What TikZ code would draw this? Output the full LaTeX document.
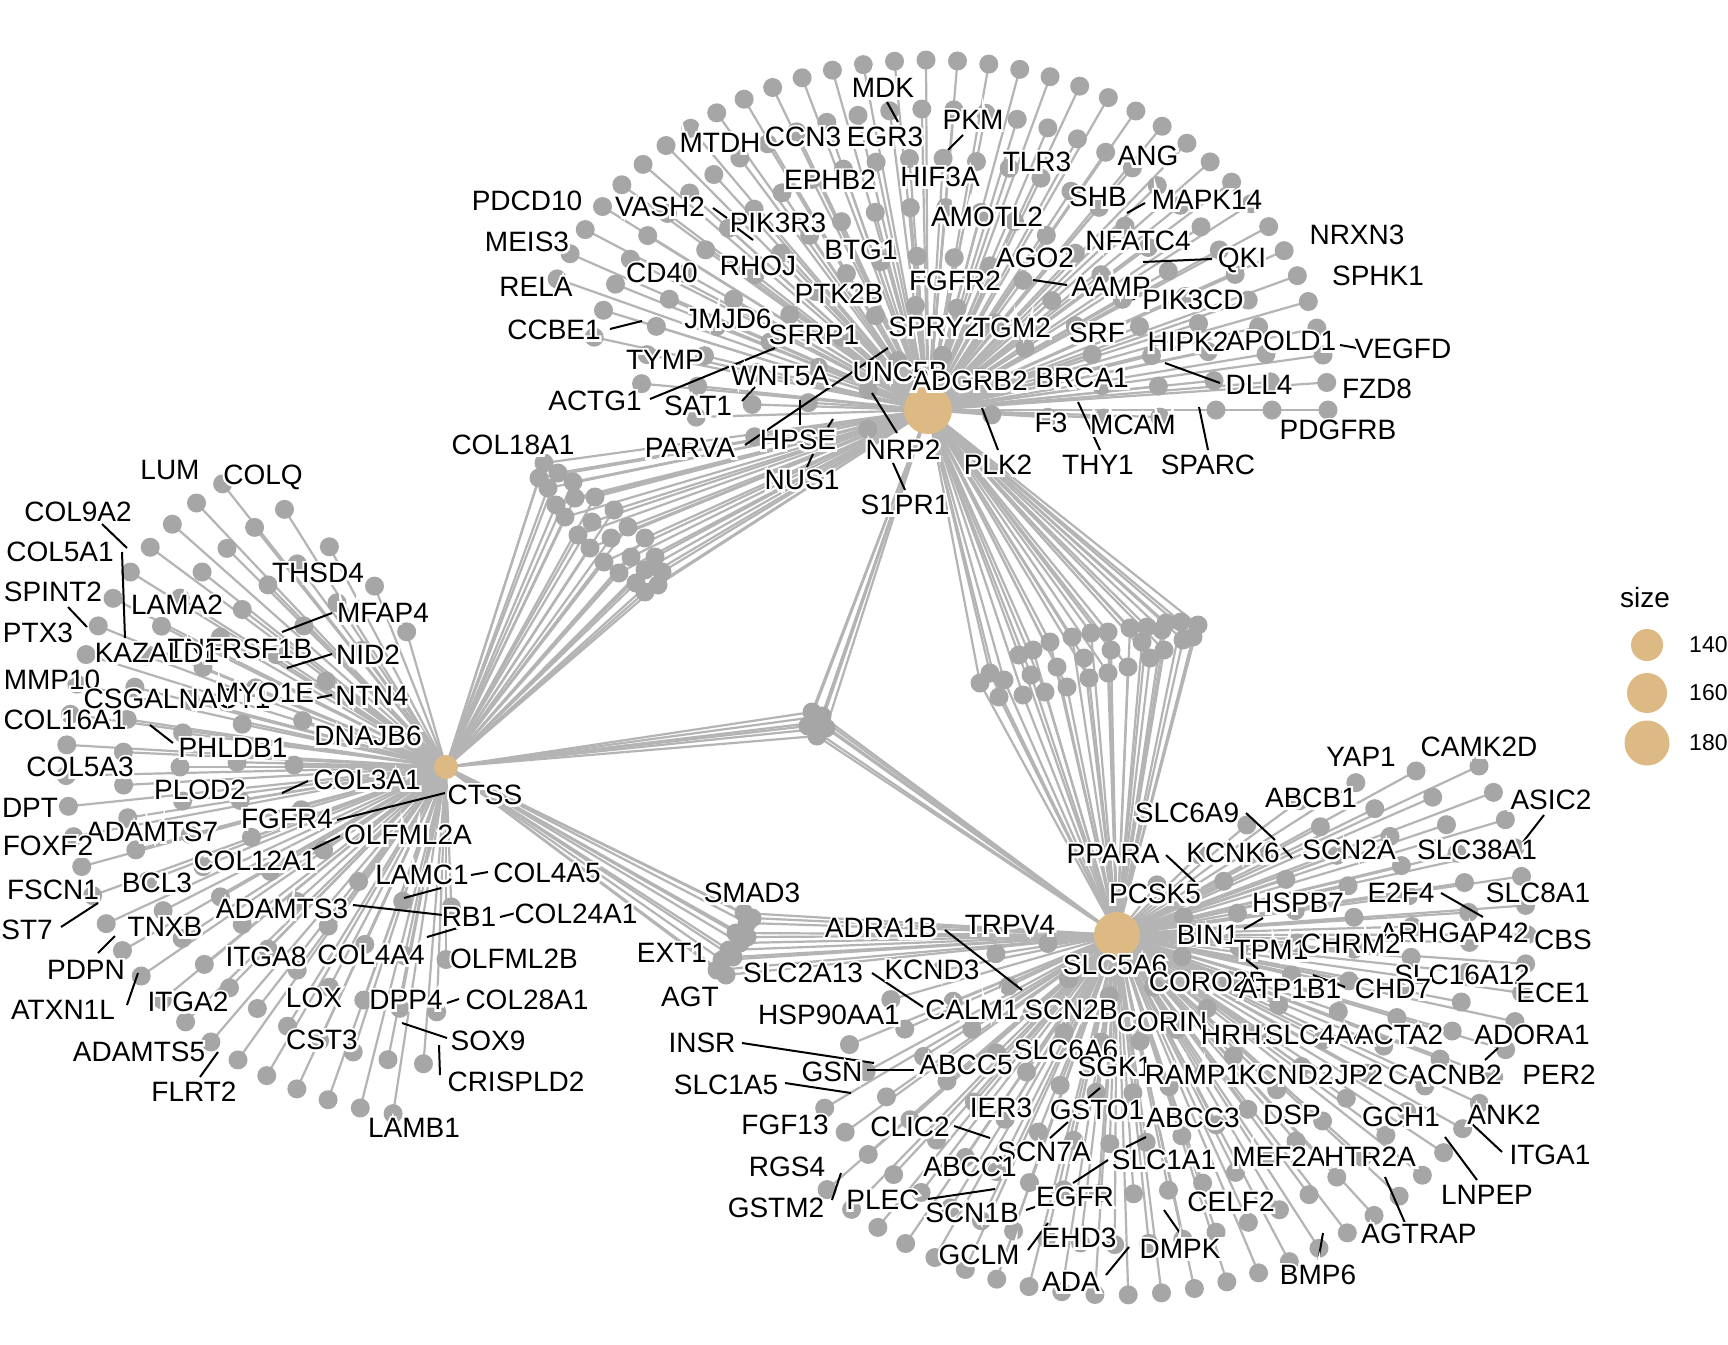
\documentclass[tikz,border=0pt]{standalone}
\usepackage{fontspec}
\setmainfont{Liberation Sans}
\newfontfamily\halofont[FakeBold=16]{Liberation Sans}
\definecolor{edgec}{RGB}{180,180,180}
\definecolor{dotc}{RGB}{166,166,166}
\definecolor{hubc}{RGB}{221,185,131}
\tikzset{
 edge/.style={draw=edgec, line width=2.2pt},
 dot/.style={circle, fill=dotc, minimum size=19pt, inner sep=0pt},
 hub/.style={circle, fill=hubc, inner sep=0pt},
 lbl/.style={font=\fontsize{28}{30}\selectfont, inner sep=0pt, anchor=center},
 halo/.style={font=\halofont\fontsize{28}{30}\selectfont, text=white, inner sep=0pt, anchor=center},
 leader/.style={draw=black, line width=2pt},
 legtxt/.style={font=\fontsize{23}{25}\selectfont, inner sep=0pt, anchor=west},
}
\newcommand\gl[2]{%
 \node[halo] (H-#2) at (#1) {#2};%
 \node[lbl] (L-#2) at (#1) {#2};}
\newcommand\ld[3]{\coordinate (#1-a) at (#2); \coordinate (#1-b) at (#3); \draw[leader] (#1-a) -- (#1-b);}
\newcommand\ringsA{1.00/36/0/158, 0.86/32/0/166, 0.72/27/0/174, 0.58/22/-2/182, 0.44/17/-3/190, 0.30/11/-4/196, 0.16/6/-5/200}
\newcommand\ringsC{1.00/28/126/262, 0.85/24/120/266, 0.70/20/116/268, 0.55/15/110/270, 0.40/10/105/272}
\newcommand\ringsS{1.00/36/28/-135, 0.86/33/32/-146, 0.72/29/36/-155, 0.58/24/40/-162, 0.44/19/44/-167, 0.30/13/48/-170, 0.17/7/55/-172}
\newcommand\ptsAC{544/463,539/478,558/473,573/482,548/488,575/498,595/497,556/505,565/517,592/522,614/510,628/527,578/535,611/538,645/538,590/548,631/557,655/557,604/562,619/573,645/570,662/572,636/583,658/585,645/592}
\newcommand\ptsAS{980/683,990/673,1004/680,999/697,1023/695,1019/655,1033/650,1031/675,1045/692,1050/642,1057/667,1067/687,1072/637,1084/658,1089/678,1091/633,1111/650,1108/673,1108/632,1130/628,1128/667,1142/642,1150/658,1147/627,1164/650,1166/623,1181/622,1183/640,1198/625,1193/637,1162/630}
\newcommand\ptsCS{744/913,747/923,736/933,740/943,729/950,722/960,717/970,726/975,733/957,747/937,752/918}
\newcommand\ptsT{812/712,822/716,808/726,826/728,817/736,820/722}
\begin{document}
\begin{tikzpicture}[x=1pt,y=-1pt]
\useasboundingbox (0,0) rectangle (1728,1344);
\fill[white] (0,0) rectangle (1728,1344);
\coordinate (HA) at (928,410);
\coordinate (HC) at (446,767);
\coordinate (HS) at (1117,935);
% ---- positions and edges
\foreach \f/\n/\ta/\tb [count=\r] in \ringsA {
  \foreach \k in {1,...,\n}{
    \pgfmathsetmacro\ang{\ta+(\k-1)*(\tb-\ta)/(\n-1)}
    \coordinate (A\r-\k) at ({928+\f*400*cos(\ang)},{410-\f*350*sin(\ang)});
    \draw[edge] (HA) -- (A\r-\k);
  }
}
\foreach \f/\n/\ta/\tb [count=\r] in \ringsC {
  \foreach \k in {1,...,\n}{
    \pgfmathsetmacro\ang{\ta+(\k-1)*(\tb-\ta)/(\n-1)}
    \coordinate (C\r-\k) at ({446+\f*380*cos(\ang)},{767-\f*350*sin(\ang)});
    \draw[edge] (HC) -- (C\r-\k);
  }
}
\foreach \f/\n/\ta/\tb [count=\r] in \ringsS {
  \foreach \k in {1,...,\n}{
    \pgfmathsetmacro\ang{\ta+(\k-1)*(\tb-\ta)/(\n-1)}
    \coordinate (S\r-\k) at ({1117+\f*410*cos(\ang)},{935-\f*360*sin(\ang)});
    \draw[edge] (HS) -- (S\r-\k);
  }
}
\foreach \x/\y [count=\i] in \ptsAC {
  \coordinate (AC\i) at (\x,\y);
  \draw[edge] (HA) -- (AC\i); \draw[edge] (HC) -- (AC\i);
}
\foreach \x/\y [count=\i] in \ptsAS {
  \coordinate (AS\i) at (\x,\y);
  \draw[edge] (HA) -- (AS\i); \draw[edge] (HS) -- (AS\i);
}
\foreach \x/\y [count=\i] in \ptsCS {
  \coordinate (CS\i) at (\x,\y);
  \draw[edge] (HC) -- (CS\i); \draw[edge] (HS) -- (CS\i);
}
\foreach \x/\y [count=\i] in \ptsT {
  \coordinate (T\i) at (\x,\y);
  \draw[edge] (HA) -- (T\i); \draw[edge] (HC) -- (T\i); \draw[edge] (HS) -- (T\i);
}
% ---- dots
\foreach \f/\n/\ta/\tb [count=\r] in \ringsA {\foreach \k in {1,...,\n}{\node[dot] (dA\r-\k) at (A\r-\k) {};}}
\foreach \f/\n/\ta/\tb [count=\r] in \ringsC {\foreach \k in {1,...,\n}{\node[dot] (dC\r-\k) at (C\r-\k) {};}}
\foreach \f/\n/\ta/\tb [count=\r] in \ringsS {\foreach \k in {1,...,\n}{\node[dot] (dS\r-\k) at (S\r-\k) {};}}
\foreach \x/\y [count=\i] in \ptsAC {\node[dot] (dAC\i) at (AC\i) {};}
\foreach \x/\y [count=\i] in \ptsAS {\node[dot] (dAS\i) at (AS\i) {};}
\foreach \x/\y [count=\i] in \ptsCS {\node[dot] (dCS\i) at (CS\i) {};}
\foreach \x/\y [count=\i] in \ptsT {\node[dot] (dT\i) at (T\i) {};}
% hubs
\node[hub, minimum size=48pt] (HA-n) at (HA) {};
\node[hub, minimum size=24pt] (HC-n) at (HC) {};
\node[hub, minimum size=46pt] (HS-n) at (HS) {};
% leader lines
\ld{l1}{887,102}{898,122}
\ld{l2}{963,135}{948,150}
\ld{l3}{713,208}{727,218}
\ld{l4}{737,228}{753,240}
\ld{l5}{1127,213}{1145,203}
\ld{l6}{1143,262}{1212,259}
\ld{l7}{1033,280}{1067,285}
\ld{l8}{1128,297}{1135,299}
\ld{l9}{610,329}{642,321}
\ld{l10}{650,399}{775,348}
\ld{l11}{742,401}{755,387}
\ld{l12}{745,445}{888,348}
\ld{l13}{800,400}{800,425}
\ld{l14}{828,427}{833,419}
\ld{l15}{872,393}{897,433}
\ld{l16}{893,463}{905,490}
\ld{l17}{807,467}{813,454}
\ld{l18}{1165,363}{1220,383}
\ld{l19}{1340,345}{1357,348}
\ld{l20}{982,408}{998,450}
\ld{l21}{1078,402}{1100,450}
\ld{l22}{1199,407}{1208,450}
\ld{c1}{102,524}{127,548}
\ld{c2}{122,552}{125,638}
\ld{c3}{68,607}{87,627}
\ld{c4}{282,632}{332,613}
\ld{c5}{287,668}{332,654}
\ld{c6}{317,698}{332,695}
\ld{c7}{150,725}{173,743}
\ld{c8}{282,793}{308,781}
\ld{c9}{445,793}{337,820}
\ld{c10}{340,836}{307,852}
\ld{c11}{471,875}{488,872}
\ld{c12}{441,888}{404,898}
\ld{c13}{353,905}{443,915}
\ld{c14}{500,917}{516,913}
\ld{c15}{461,927}{427,937}
\ld{c16}{61,927}{98,903}
\ld{c17}{98,953}{115,936}
\ld{c18}{127,1005}{138,973}
\ld{c19}{447,1003}{459,999}
\ld{c20}{402,1023}{447,1038}
\ld{c21}{439,1045}{440,1075}
\ld{c22}{200,1077}{218,1052}
\ld{s1}{945,930}{1022,990}
\ld{s2}{872,973}{923,1007}
\ld{s3}{742,1043}{874,1063}
\ld{s4}{867,1070}{914,1070}
\ld{s5}{785,1083}{851,1093}
\ld{s6}{1100,1088}{1088,1098}
\ld{s7}{954,1126}{990,1138}
\ld{s8}{1068,1122}{1050,1138}
\ld{s9}{1126,1147}{1146,1137}
\ld{s10}{1108,1160}{1073,1183}
\ld{s11}{832,1200}{841,1173}
\ld{s12}{928,1199}{995,1189}
\ld{s13}{1026,1210}{1035,1207}
\ld{s14}{1028,1250}{1048,1223}
\ld{s15}{1164,1210}{1180,1233}
\ld{s16}{1106,1275}{1129,1247}
\ld{s17}{1323,1233}{1318,1262}
\ld{s18}{1246,813}{1275,840}
\ld{s19}{1283,848}{1292,858}
\ld{s20}{1166,855}{1195,882}
\ld{s21}{1544,815}{1523,842}
\ld{s22}{1441,893}{1483,917}
\ld{s23}{1244,929}{1263,918}
\ld{s24}{1244,958}{1258,969}
\ld{s25}{1313,975}{1345,987}
\ld{s26}{1498,1048}{1485,1060}
\ld{s27}{1471,1123}{1502,1152}
\ld{s28}{1445,1137}{1477,1180}
\ld{s29}{1385,1177}{1405,1223}
% ADGRB2 labels
\gl{883,88}{MDK}
\gl{720,143}{MTDH}
\gl{803,137}{CCN3}
\gl{885,137}{EGR3}
\gl{973,120}{PKM}
\gl{830,180}{EPHB2}
\gl{940,177}{HIF3A}
\gl{1037,162}{TLR3}
\gl{1148,156}{ANG}
\gl{527,201}{PDCD10}
\gl{660,207}{VASH2}
\gl{778,223}{PIK3R3}
\gl{1098,197}{SHB}
\gl{1207,200}{MAPK14}
\gl{987,217}{AMOTL2}
\gl{527,242}{MEIS3}
\gl{861,250}{BTG1}
\gl{1138,241}{NFATC4}
\gl{1357,235}{NRXN3}
\gl{536,287}{RELA}
\gl{662,273}{CD40}
\gl{758,266}{RHOJ}
\gl{1035,258}{AGO2}
\gl{1242,260}{QKI}
\gl{955,281}{FGFR2}
\gl{1111,287}{AAMP}
\gl{1378,276}{SPHK1}
\gl{839,294}{PTK2B}
\gl{1193,300}{PIK3CD}
\gl{554,330}{CCBE1}
\gl{728,319}{JMJD6}
\gl{814,335}{SFRP1}
\gl{934,327}{SPRY2}
\gl{1012,328}{TGM2}
\gl{1097,333}{SRF}
\gl{1188,342}{HIPK2}
\gl{1281,341}{APOLD1}
\gl{1403,349}{VEGFD}
\gl{665,360}{TYMP}
\gl{780,376}{WNT5A}
\gl{900,372}{UNC5B}
\gl{595,401}{ACTG1}
\gl{698,406}{SAT1}
\gl{970,381}{ADGRB2}
\gl{1082,378}{BRCA1}
\gl{1259,385}{DLL4}
\gl{1377,389}{FZD8}
\gl{1338,430}{PDGFRB}
\gl{1051,423}{F3}
\gl{1133,425}{MCAM}
\gl{798,440}{HPSE}
\gl{690,448}{PARVA}
\gl{903,450}{NRP2}
\gl{513,445}{COL18A1}
\gl{802,480}{NUS1}
\gl{998,465}{PLK2}
\gl{1098,465}{THY1}
\gl{1208,465}{SPARC}
\gl{905,505}{S1PR1}
% CTSS labels
\gl{170,470}{LUM}
\gl{263,477}{COLQ}
\gl{78,512}{COL9A2}
\gl{60,552}{COL5A1}
\gl{318,573}{THSD4}
\gl{53,592}{SPINT2}
\gl{177,605}{LAMA2}
\gl{383,613}{MFAP4}
\gl{38,633}{PTX3}
\gl{240,649}{TNFRSF1B}
\gl{157,653}{KAZALD1}
\gl{368,655}{NID2}
\gl{52,680}{MMP10}
\gl{177,699}{CSGALNACT1}
\gl{265,693}{MYO1E}
\gl{372,696}{NTN4}
\gl{65,720}{COL16A1}
\gl{368,736}{DNAJB6}
\gl{233,748}{PHLDB1}
\gl{80,767}{COL5A3}
\gl{367,780}{COL3A1}
\gl{200,790}{PLOD2}
\gl{485,795}{CTSS}
\gl{30,808}{DPT}
\gl{287,819}{FGFR4}
\gl{152,832}{ADAMTS7}
\gl{408,835}{OLFML2A}
\gl{48,846}{FOXF2}
\gl{255,861}{COL12A1}
\gl{157,883}{BCL3}
\gl{53,890}{FSCN1}
\gl{422,875}{LAMC1}
\gl{547,873}{COL4A5}
\gl{282,909}{ADAMTS3}
\gl{469,917}{RB1}
\gl{576,914}{COL24A1}
\gl{27,930}{ST7}
\gl{165,927}{TNXB}
\gl{86,970}{PDPN}
\gl{266,957}{ITGA8}
\gl{371,955}{COL4A4}
\gl{514,959}{OLFML2B}
\gl{63,1010}{ATXN1L}
\gl{188,1002}{ITGA2}
\gl{314,998}{LOX}
\gl{406,1000}{DPP4}
\gl{527,1000}{COL28A1}
\gl{488,1041}{SOX9}
\gl{322,1040}{CST3}
\gl{139,1052}{ADAMTS5}
\gl{194,1092}{FLRT2}
\gl{516,1082}{CRISPLD2}
\gl{414,1128}{LAMB1}
% SLC5A6 labels
\gl{752,893}{SMAD3}
\gl{672,953}{EXT1}
\gl{690,997}{AGT}
\gl{881,928}{ADRA1B}
\gl{1010,925}{TRPV4}
\gl{1113,854}{PPARA}
\gl{1155,894}{PCSK5}
\gl{1187,813}{SLC6A9}
\gl{1311,798}{ABCB1}
\gl{1361,757}{YAP1}
\gl{1479,747}{CAMK2D}
\gl{1551,800}{ASIC2}
\gl{1233,853}{KCNK6}
\gl{1349,850}{SCN2A}
\gl{1477,850}{SLC38A1}
\gl{1401,893}{E2F4}
\gl{1538,893}{SLC8A1}
\gl{1298,903}{HSPB7}
\gl{1208,935}{BIN1}
\gl{1271,950}{TPM1}
\gl{1454,933}{ARHGAP42}
\gl{1563,940}{CBS}
\gl{1351,944}{CHRM2}
\gl{1115,965}{SLC5A6}
\gl{1462,975}{SLC16A12}
\gl{1208,982}{CORO2B}
\gl{1290,989}{ATP1B1}
\gl{1393,989}{CHD7}
\gl{1553,993}{ECE1}
\gl{803,973}{SLC2A13}
\gl{932,970}{KCND3}
\gl{829,1015}{HSP90AA1}
\gl{972,1010}{CALM1}
\gl{1071,1010}{SCN2B}
\gl{1162,1022}{CORIN}
\gl{1239,1035}{HRH1}
\gl{1317,1035}{SLC4A4}
\gl{1399,1035}{ACTA2}
\gl{1532,1035}{ADORA1}
\gl{702,1043}{INSR}
\gl{1066,1050}{SLC6A6}
\gl{832,1072}{GSN}
\gl{966,1065}{ABCC5}
\gl{1115,1067}{SGK1}
\gl{1193,1075}{RAMP1}
\gl{1286,1075}{KCND2}
\gl{1359,1075}{JP2}
\gl{1445,1075}{CACNB2}
\gl{1559,1075}{PER2}
\gl{726,1085}{SLC1A5}
\gl{1001,1108}{IER3}
\gl{1097,1110}{GSTO1}
\gl{1193,1118}{ABCC3}
\gl{1292,1115}{DSP}
\gl{1401,1117}{GCH1}
\gl{1504,1115}{ANK2}
\gl{785,1125}{FGF13}
\gl{910,1127}{CLIC2}
\gl{1044,1152}{SCN7A}
\gl{1164,1160}{SLC1A1}
\gl{1279,1157}{MEF2A}
\gl{1370,1157}{HTR2A}
\gl{1550,1155}{ITGA1}
\gl{787,1167}{RGS4}
\gl{970,1167}{ABCC1}
\gl{1075,1197}{EGFR}
\gl{883,1200}{PLEC}
\gl{776,1208}{GSTM2}
\gl{1231,1202}{CELF2}
\gl{1487,1195}{LNPEP}
\gl{972,1213}{SCN1B}
\gl{1419,1234}{AGTRAP}
\gl{1079,1238}{EHD3}
\gl{1180,1249}{DMPK}
\gl{979,1255}{GCLM}
\gl{1318,1275}{BMP6}
\gl{1071,1282}{ADA}
% legend
\node[font=\fontsize{28}{30}\selectfont, inner sep=0pt, anchor=west] (lg-title) at (1620,597) {size};
\node[hub, minimum size=32pt] (lg-c1) at (1647,645) {};
\node[hub, minimum size=40pt] (lg-c2) at (1647,693) {};
\node[hub, minimum size=45pt] (lg-c3) at (1647,743) {};
\node[legtxt] (lg-t1) at (1689,645) {140};
\node[legtxt] (lg-t2) at (1689,693) {160};
\node[legtxt] (lg-t3) at (1689,743) {180};
\end{tikzpicture}
\end{document}
